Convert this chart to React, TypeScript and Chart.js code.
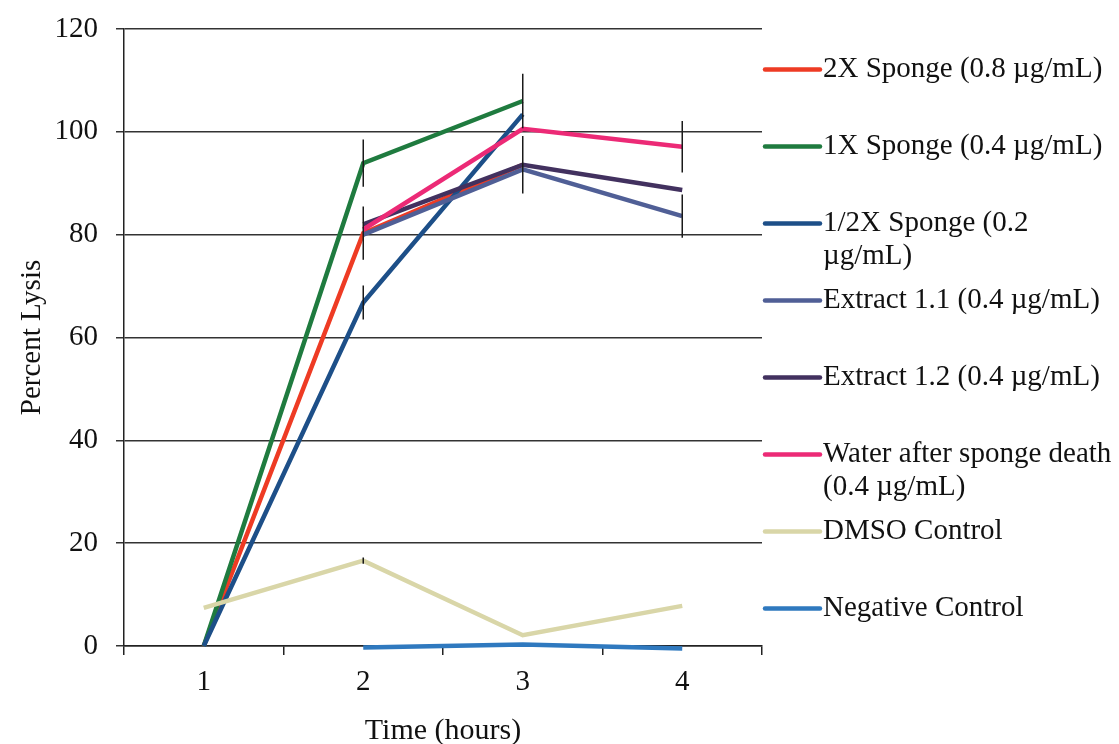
import React, { useEffect, useRef } from 'react';
import { Chart, registerables } from 'chart.js';

Chart.register(...registerables);

const categories = ['1', '2', '3', '4'];
const yTicks = [0, 20, 40, 60, 80, 100, 120];

const labels = [
  '2X Sponge (0.8 µg/mL)',
  '1X Sponge (0.4 µg/mL)',
  '1/2X Sponge (0.2\nµg/mL)',
  'Extract 1.1 (0.4 µg/mL)',
  'Extract 1.2 (0.4 µg/mL)',
  'Water after sponge death\n(0.4 µg/mL)',
  'DMSO Control',
  'Negative Control',
];

const sponge2x = [0, 80.3, 93.6, null];
const sponge1x = [0, 93.9, 106.0, null];
const spongeHalf = [0, 66.8, 103.4, null];
const extract11 = [null, 80.0, 92.7, 83.6];
const extract12 = [null, 82.0, 93.6, 88.7];
const waterDeath = [null, 81.0, 100.6, 97.1];
const dmso = [7.4, 16.6, 2.1, 7.8];
const negative = [null, -0.3, 0.3, -0.5];

const err2x = [0, 5.2, 5.6, 0];
const err1x = [0, 4.6, 5.3, 0];
const errHalf = [0, 3.3, 0, 0];
const errExt11 = [0, 0, 0, 4.2];
const errExt12 = [0, 0, 0, 0];
const errWater = [0, 0, 0, 5.0];
const errDmso = [0, 0.6, 0, 0];
const errNeg = [0, 0, 0, 0];

const colors = ['#EE3B24', '#1F7B3F', '#1D4F88', '#505F96', '#42315F', '#EC2A76', '#D9D6A8', '#2F79BF'];

const seriesValues = [sponge2x, sponge1x, spongeHalf, extract11, extract12, waterDeath, dmso, negative];
const seriesErrors = [err2x, err1x, errHalf, errExt11, errExt12, errWater, errDmso, errNeg];

const FONT = '"Liberation Serif", "Times New Roman", serif';

const errorBarPlugin = {
  id: 'errorBars',
  afterDatasetsDraw(chart: any) {
    const ctx = chart.ctx;
    const xs = chart.scales.x;
    const ys = chart.scales.y;
    ctx.save();
    ctx.strokeStyle = '#1a1a1a';
    ctx.lineWidth = 1.5;
    chart.data.datasets.forEach((ds: any) => {
      const errs = ds.errors || [];
      ds.data.forEach((v: number | null, i: number) => {
        const e = errs[i];
        if (v === null || v === undefined || !e) return;
        const x = xs.getPixelForValue(i);
        ctx.beginPath();
        ctx.moveTo(x, ys.getPixelForValue(v - e));
        ctx.lineTo(x, ys.getPixelForValue(v + e));
        ctx.stroke();
      });
    });
    ctx.restore();
  },
};

const legendPlugin = {
  id: 'sideLegend',
  afterDraw(chart: any) {
    const ctx = chart.ctx;
    ctx.save();
    ctx.font = `29px ${FONT}`;
    ctx.textBaseline = 'middle';
    ctx.fillStyle = '#111';
    chart.data.datasets.forEach((ds: any, i: number) => {
      const y = 69.5 + i * 77.0;
      ctx.strokeStyle = ds.borderColor;
      ctx.lineWidth = 4.5;
      ctx.lineCap = 'round';
      ctx.beginPath();
      ctx.moveTo(765, y);
      ctx.lineTo(820, y);
      ctx.stroke();
      const lines = String(ds.label).split('\n');
      lines.forEach((t: string, k: number) => {
        ctx.fillText(t, 823, y + k * 33);
      });
    });
    ctx.restore();
  },
};

export default function App() {
  const ref = useRef<HTMLCanvasElement>(null);
  useEffect(() => {
    document.body.style.margin = '0';
    const chart = new Chart(ref.current as HTMLCanvasElement, {
      type: 'line',
      data: {
        labels: categories,
        datasets: seriesValues.map((vals, i) => ({
          label: labels[i],
          data: vals,
          errors: seriesErrors[i],
          borderColor: colors[i],
          backgroundColor: colors[i],
          borderWidth: 4.5,
          pointRadius: 0,
          pointHoverRadius: 0,
          tension: 0,
          fill: false,
          order: -i,
          clip: false,
        })) as any,
      },
      options: {
        animation: false,
        responsive: false,
        layout: { padding: { left: 0, top: 29, right: 357, bottom: 0 } },
        plugins: {
          legend: { display: false },
          tooltip: { enabled: false },
        },
        scales: {
          x: {
            type: 'category',
            offset: true,
            grid: {
              offset: true,
              drawOnChartArea: false,
              drawTicks: true,
              tickLength: 9,
              color: '#222',
              lineWidth: 1.5,
            },
            border: { display: true, color: '#222', width: 1.5 },
            ticks: { font: { family: FONT, size: 29 }, color: '#111', padding: 10 },
            title: {
              display: true,
              text: 'Time (hours)',
              color: '#111',
              font: { family: FONT, size: 30, lineHeight: 1 },
              padding: { top: 0, bottom: -2 },
            },
            afterFit: (s: any) => {
              s.height = 98;
            },
          },
          y: {
            min: 0,
            max: 120,
            afterBuildTicks: (s: any) => {
              s.ticks = yTicks.map((v) => ({ value: v }));
            },
            grid: { color: '#333', lineWidth: 1.5, tickLength: 8 },
            border: { display: true, color: '#222', width: 1.5 },
            ticks: { font: { family: FONT, size: 29 }, color: '#111', padding: 18 },
            title: {
              display: true,
              text: 'Percent Lysis',
              color: '#111',
              font: { family: FONT, size: 29, lineHeight: 1 },
              padding: { top: 18, bottom: 0 },
            },
            afterFit: (s: any) => {
              s.width = 124;
              s.paddingTop = 0;
              s.paddingBottom = 0;
            },
          },
        },
      },
      plugins: [errorBarPlugin, legendPlugin],
    });
    return () => chart.destroy();
  }, []);
  return (
    <div style={{ width: 1119, height: 744 }}>
      <canvas ref={ref} width={1119} height={744} style={{ display: 'block' }} />
    </div>
  );
}
